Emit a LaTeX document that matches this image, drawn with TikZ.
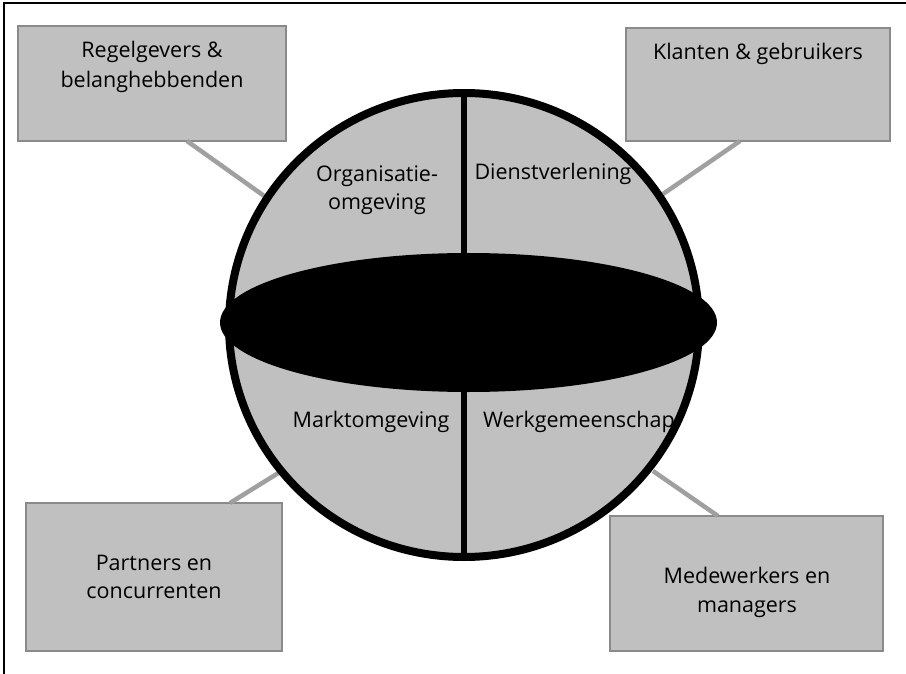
\documentclass[tikz,border=0pt]{standalone}
\usepackage{fontspec}
\setmainfont{Open Sans}
\usetikzlibrary{shapes.geometric,calc}
\definecolor{boxfill}{HTML}{C0C0C0}
\definecolor{boxline}{HTML}{8A8A8A}
\definecolor{conncol}{HTML}{A0A0A0}
\begin{document}
\begin{tikzpicture}[x=1pt,y=-1pt,
  actor/.style={draw=boxline, line width=1.8pt, fill=boxfill, inner sep=0pt, outer sep=0pt},
  conn/.style={draw=conncol, line width=4.5pt},
  lbl/.style={font=\fontsize{21.5}{29}\selectfont, align=center, inner sep=0pt, anchor=base},
]
\useasboundingbox (0,0) rectangle (906,674);
\draw[line width=1.8pt] (4,674) -- (4,3) -- (906,3);

% boxes
\node[actor, minimum width=268pt, minimum height=115pt] (b1) at (152,83.5) {};
\node[actor, minimum width=264pt, minimum height=113pt] (b2) at (758,84.5) {};
\node[actor, minimum width=256pt, minimum height=148pt] (b3) at (154,577) {};
\node[actor, minimum width=273pt, minimum height=135pt] (b4) at (746.5,583.5) {};

% connector ends on the globe
\coordinate (e1) at (267,198);
\coordinate (e2) at (663,194);
\coordinate (e3) at (280,472);
\coordinate (e4) at (653,471);
\draw[conn] ($(b1.south)+(35,0)$) -- (e1);
\draw[conn] ($(b2.south)+(-18,0)$) -- (e2);
\draw[conn] ($(b3.north)+(76,0)$) -- (e3);
\draw[conn] ($(b4.north)+(-28.5,0)$) -- (e4);

% globe
\node[ellipse, draw=black, line width=8pt, fill=boxfill, minimum width=470pt, minimum height=464pt, inner sep=0pt, outer sep=0pt] (globe) at (464,325) {};
\draw[line width=5.5pt] (globe.north) -- (globe.south);
\node[ellipse, fill=black, minimum width=497pt, minimum height=139pt, inner sep=0pt] (core) at (468.5,322.5) {};

% box texts
\node[lbl] (t1a) at (152,58) {Regelgevers \&};
\node[lbl] (t1b) at (152,88) {belanghebbenden};
\node[lbl] (t2) at (758,60) {Klanten \& gebruikers};
\node[lbl] (t3a) at (154,570) {Partners en};
\node[lbl] (t3b) at (154,598) {concurrenten};
\node[lbl] (t4a) at (747,583) {Medewerkers en};
\node[lbl] (t4b) at (747,612) {managers};

% globe texts
\node[lbl] (q1a) at (377,182) {Organisatie-};
\node[lbl] (q1b) at (377,210) {omgeving};
\node[lbl] (q2) at (553,180) {Dienstverlening};
\node[lbl] (q3) at (371,427) {Marktomgeving};
\node[lbl] (q4) at (579,427) {Werkgemeenschap};
\end{tikzpicture}
\end{document}
